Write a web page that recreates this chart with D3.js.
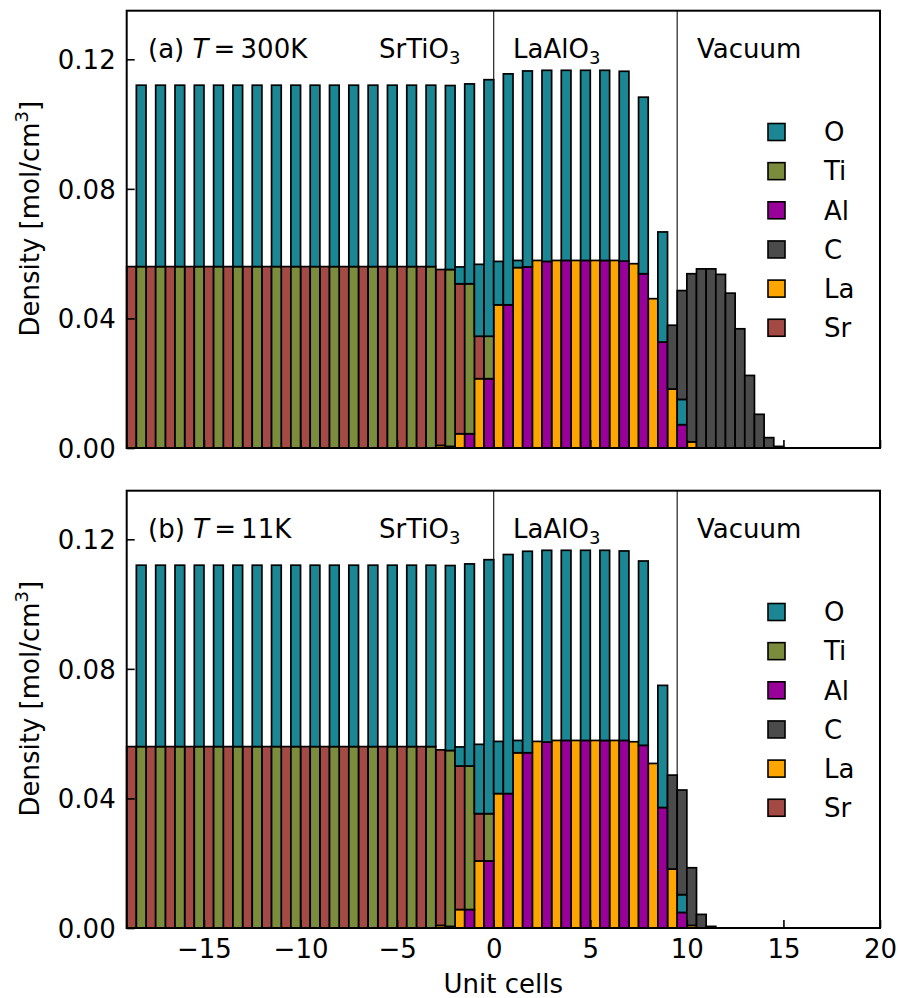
<!DOCTYPE html>
<html>
<head>
<meta charset="utf-8">
<script src="https://cdn.jsdelivr.net/npm/d3@7"></script>
<style>
  html, body { margin: 0; padding: 0; background: #fff; }
  svg { display: block; }
  text { font-family: "DejaVu Sans", sans-serif; }
</style>
</head>
<body>
<svg id="chart" width="898" height="998"></svg>
<script>
// ---------------- DATA ----------------
// Left edge (in unit cells) of each half-unit-cell layer bar
const layers = [-19,-18.5,-18,-17.5,-17,-16.5,-16,-15.5,-15,-14.5,-14,-13.5,-13,-12.5,-12,-11.5,
  -11,-10.5,-10,-9.5,-9,-8.5,-8,-7.5,-7,-6.5,-6,-5.5,-5,-4.5,-4,-3.5,
  -3,-2.5,-2,-1.5,-1,-0.5,0,0.5,1,1.5,2,2.5,3,3.5,4,4.5,5,5.5,6,6.5,7,7.5,8,8.5,9,9.5,
  10,10.5,11,11.5,12,12.5,13,13.5,14,14.5];

const elements = ["O","Ti","Al","C","La","Sr"];          // legend order
const stackOrder = ["La","Al","Sr","Ti","O","C"];        // bottom -> top

// ---- (a) T = 300 K ----
const Sr_a = [0.056,0,0.056,0,0.056,0,0.056,0, 0.056,0,0.056,0,0.056,0,0.056,0,
  0.056,0,0.056,0,0.056,0,0.056,0, 0.056,0,0.056,0,0.056,0,0.056,0,
  0.0543,0,0.0463,0,0.0131,0,0,0,0,0,0,0,0,0,0,0,0,0,0,0,0,0,0,0,0,0,0,0,0,0,0,0,0,0,0,0];
const Ti_a = [0,0.056,0,0.056,0,0.056,0,0.056, 0,0.056,0,0.056,0,0.056,0,0.056,
  0,0.056,0,0.056,0,0.056,0,0.056, 0,0.056,0,0.056,0,0.056,0,0.056,
  0,0.0546,0,0.0463,0,0.0131,0,0,0,0,0,0,0,0,0,0,0,0,0,0,0,0,0,0,0,0,0,0,0,0,0,0,0,0,0,0];
const La_a = [0,0,0,0,0,0,0,0, 0,0,0,0,0,0,0,0, 0,0,0,0,0,0,0,0, 0,0,0,0,0,0,0,0,
  0.0008,0,0.0044,0,0.0214,0,0.0442,0,0.0557,0,0.0579,0,0.0579,0,0.0579,0,0.0579,0,0.0579,0,
  0.0569,0,0.0461,0,0.0182,0,0.0019, 0,0,0,0,0,0,0,0,0];
const Al_a = [0,0,0,0,0,0,0,0, 0,0,0,0,0,0,0,0, 0,0,0,0,0,0,0,0, 0,0,0,0,0,0,0,0,
  0,0.0005,0,0.0044,0,0.0214,0,0.0442,0,0.0559,0,0.0576,0,0.0579,0,0.0579,0,0.0579,0,0.0577,
  0,0.0538,0,0.0327,0,0.0072, 0,0,0,0,0,0,0,0,0,0];
const O_a = [0,0.056,0,0.056,0,0.056,0,0.056, 0,0.056,0,0.056,0,0.056,0,0.056,
  0,0.056,0,0.056,0,0.056,0,0.056, 0,0.056,0,0.056,0,0.056,0,0.056,
  0,0.0568,0.0052,0.0617,0.0222,0.0792,0.0134,0.0713,0.0022,0.0605,0,0.0590,0,0.0587,0,0.0587,
  0,0.0587,0,0.0586,0,0.0545,0,0.0340,0,0.0078, 0,0,0,0,0,0,0,0,0,0];
const C_a = [0,0,0,0,0,0,0,0, 0,0,0,0,0,0,0,0, 0,0,0,0,0,0,0,0, 0,0,0,0,0,0,0,0,
  0,0,0,0,0,0,0,0, 0,0,0,0,0,0,0,0, 0,0,0,0,0,0,0,0,
  0.0197,0.0336,0.0519,0.0553,0.0553,0.0536,0.0478,0.0368,0.0224,0.0104,0.0032,0.0005];

// ---- (b) T = 11 K ----
const Sr_b = [0.056,0,0.056,0,0.056,0,0.056,0, 0.056,0,0.056,0,0.056,0,0.056,0,
  0.056,0,0.056,0,0.056,0,0.056,0, 0.056,0,0.056,0,0.056,0,0.056,0,
  0.0542,0,0.0443,0,0.0146,0,0,0,0,0,0,0,0,0,0,0,0,0,0,0,0,0,0,0,0,0,0,0,0,0,0,0,0,0,0,0];
const Ti_b = [0,0.056,0,0.056,0,0.056,0,0.056, 0,0.056,0,0.056,0,0.056,0,0.056,
  0,0.056,0,0.056,0,0.056,0,0.056, 0,0.056,0,0.056,0,0.056,0,0.056,
  0,0.0543,0,0.0443,0,0.0146,0,0,0,0,0,0,0,0,0,0,0,0,0,0,0,0,0,0,0,0,0,0,0,0,0,0,0,0,0,0];
const La_b = [0,0,0,0,0,0,0,0, 0,0,0,0,0,0,0,0, 0,0,0,0,0,0,0,0, 0,0,0,0,0,0,0,0,
  0.0008,0,0.0057,0,0.0207,0,0.0415,0,0.0541,0,0.0576,0,0.0579,0,0.0579,0,0.0579,0,0.0579,0,
  0.0575,0,0.0508,0,0.0182,0,0.0008, 0,0,0,0,0,0,0,0,0];
const Al_b = [0,0,0,0,0,0,0,0, 0,0,0,0,0,0,0,0, 0,0,0,0,0,0,0,0, 0,0,0,0,0,0,0,0,
  0,0.0005,0,0.0057,0,0.0207,0,0.0415,0,0.0541,0,0.0574,0,0.0579,0,0.0579,0,0.0579,0,0.0579,
  0,0.0564,0,0.0372,0,0.0048, 0,0,0,0,0,0,0,0,0,0];
const O_b = [0,0.056,0,0.056,0,0.056,0,0.056, 0,0.056,0,0.056,0,0.056,0,0.056,
  0,0.056,0,0.056,0,0.056,0,0.056, 0,0.056,0,0.056,0,0.056,0,0.056,
  0,0.0571,0.0059,0.0624,0.0214,0.0784,0.0161,0.0738,0.0038,0.0622,0,0.0592,0,0.0587,0,0.0587,
  0,0.0587,0,0.0585,0,0.0569,0,0.0377,0,0.0055, 0,0,0,0,0,0,0,0,0,0];
const C_b = [0,0,0,0,0,0,0,0, 0,0,0,0,0,0,0,0, 0,0,0,0,0,0,0,0, 0,0,0,0,0,0,0,0,
  0,0,0,0,0,0,0,0, 0,0,0,0,0,0,0,0, 0,0,0,0,0,0,0,0,
  0.0290,0.0323,0.0178,0.0042,0.0005,0,0,0,0,0,0,0];

const yTicks = [0, 0.04, 0.08, 0.12];
const xTicks = [-15, -10, -5, 0, 5, 10, 15, 20];
const regionLines = [0, 9.5];
const regionLabels = [
  {parts: [["SrTiO",""],["3","sub"]]},
  {parts: [["LaAlO",""],["3","sub"]]},
  {parts: [["Vacuum",""]]}
];
const panels = [
  {tag: "(a)", temp: "300K", series: {O: O_a, Ti: Ti_a, Al: Al_a, C: C_a, La: La_a, Sr: Sr_a}},
  {tag: "(b)", temp: "11K",  series: {O: O_b, Ti: Ti_b, Al: Al_b, C: C_b, La: La_b, Sr: Sr_b}}
];
const colors = {O: "#1b8794", Ti: "#7b8c3d", Al: "#990099", C: "#4b4b4b", La: "#ffa500", Sr: "#a44a44"};

// ---------------- DRAW ----------------
const svg = d3.select("#chart");
const X0 = 126.7, X1 = 880;
const panelTops = [10.7, 490.7];
const panelH = 437.3;
const FS = 26;

const x = d3.scaleLinear().domain([-19, 20]).range([X0, X1]);

panels.forEach((p, pi) => {
  const top = panelTops[pi], bottom = top + panelH;
  const y = d3.scaleLinear().domain([0, 0.135]).range([bottom, top]);
  const g = svg.append("g");

  // region separator lines (behind bars)
  g.selectAll("line.region").data(regionLines).join("line")
    .attr("x1", d => x(d)).attr("x2", d => x(d))
    .attr("y1", top).attr("y2", bottom)
    .attr("stroke", "#222").attr("stroke-width", 1.2);

  // stacked bars
  const rows = layers.map((l, i) => {
    const r = {layer: l};
    stackOrder.forEach(k => r[k] = p.series[k][i]);
    return r;
  });
  const stacked = d3.stack().keys(stackOrder)(rows);
  stacked.forEach(s => {
    g.append("g").selectAll("rect")
      .data(s.filter(d => d[1] - d[0] > 1e-9))
      .join("rect")
      .attr("x", d => x(d.data.layer))
      .attr("width", d => x(d.data.layer + 0.5) - x(d.data.layer))
      .attr("y", d => y(d[1]))
      .attr("height", d => y(d[0]) - y(d[1]))
      .attr("fill", colors[s.key])
      .attr("stroke", "#000")
      .attr("stroke-width", 1.7);
  });

  // axes
  const ya = g.append("g").attr("transform", `translate(${X0},0)`)
    .call(d3.axisLeft(y).tickValues(yTicks).tickFormat(d3.format(".2f"))
      .tickSizeInner(-8).tickSizeOuter(0).tickPadding(11));
  ya.select(".domain").remove();
  ya.selectAll("line").attr("stroke", "#000").attr("stroke-width", 1.6);
  ya.selectAll("text").attr("font-size", FS).attr("fill", "#000")
    .attr("font-family", "DejaVu Sans").attr("dy", "0.36em");

  const xa = g.append("g").attr("transform", `translate(0,${bottom})`)
    .call(d3.axisBottom(x).tickValues(xTicks)
      .tickFormat(pi === 1 ? d3.format("d") : () => "")
      .tickSizeInner(-8).tickSizeOuter(0).tickPadding(11.5));
  xa.select(".domain").remove();
  xa.selectAll("line").attr("stroke", "#000").attr("stroke-width", 1.6);
  xa.selectAll("text").attr("font-size", FS).attr("fill", "#000")
    .attr("font-family", "DejaVu Sans");

  // frame
  g.append("rect").attr("x", X0).attr("y", top)
    .attr("width", X1 - X0).attr("height", panelH)
    .attr("fill", "none").attr("stroke", "#000").attr("stroke-width", 2);

  // panel label
  const tl = g.append("text").attr("x", 148).attr("y", top + 47.5).attr("font-size", FS);
  tl.append("tspan").text(p.tag + " ");
  tl.append("tspan").attr("font-style", "italic").text("T");
  tl.append("tspan").text("\u2009=\u2009" + p.temp);

  // region labels
  const rx = [379, 513, 697];
  regionLabels.forEach((r, ri) => {
    const t = g.append("text").attr("x", rx[ri]).attr("y", top + 47.5).attr("font-size", FS);
    r.parts.forEach(([s, kind]) => {
      if (kind === "sub") t.append("tspan").attr("font-size", 18).attr("dy", 6).text(s);
      else t.append("tspan").text(s);
    });
  });

  // legend
  const lg = g.append("g");
  elements.forEach((e, ei) => {
    const cy = top + 121.3 + ei * 39.15;
    lg.append("rect").attr("x", 768).attr("y", cy - 8.5).attr("width", 17).attr("height", 17)
      .attr("fill", colors[e]).attr("stroke", "#000").attr("stroke-width", 1.6);
    lg.append("text").attr("x", 824).attr("y", cy + 9.3).attr("font-size", FS).text(e);
  });

  // y label
  const yl = g.append("text")
    .attr("transform", `translate(38.5,${top + 208}) rotate(-90)`)
    .attr("text-anchor", "middle").attr("font-size", FS);
  yl.append("tspan").text("Density [mol/cm");
  yl.append("tspan").attr("font-size", 18).attr("dy", -11).text("3");
  yl.append("tspan").attr("dy", 11).text("]");
});

// x label
svg.append("text").attr("x", (X0 + X1) / 2).attr("y", 993)
  .attr("text-anchor", "middle").attr("font-size", FS).text("Unit cells");
</script>
</body>
</html>
